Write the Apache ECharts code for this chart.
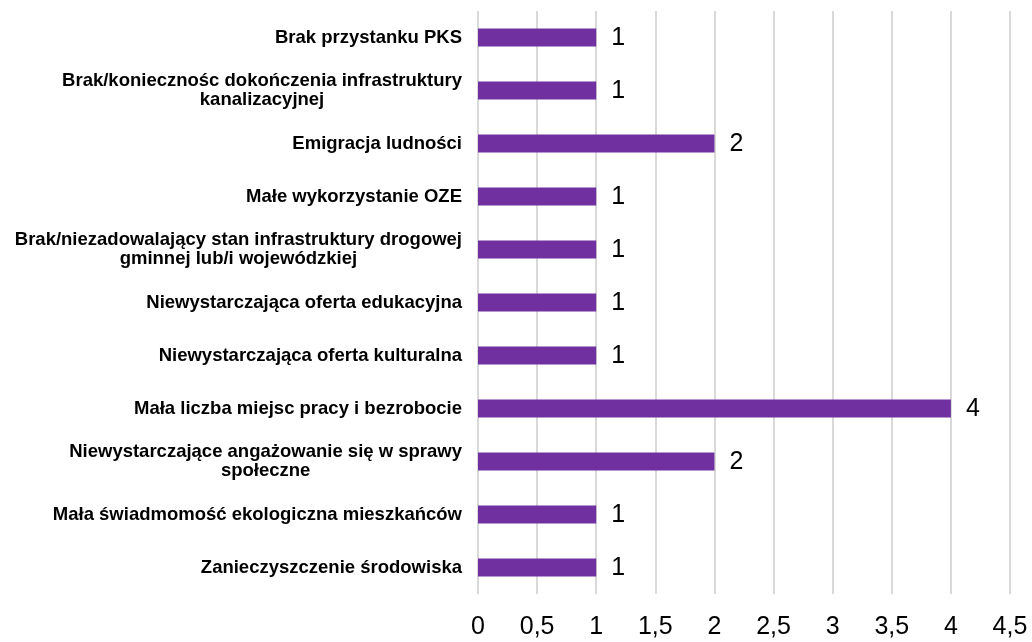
<!DOCTYPE html>
<html>
<head>
<meta charset="utf-8">
<script src="https://cdn.jsdelivr.net/npm/echarts@6/dist/echarts.min.js"></script>
<style>
  html, body { margin: 0; padding: 0; background: #fff; }
  #main { width: 1032px; height: 642px; }
</style>
</head>
<body>
<div id="main"></div>
<script>
var categories = [
  'Brak przystanku PKS',
  'Brak/koniecznośc dokończenia infrastruktury\nkanalizacyjnej',
  'Emigracja ludności',
  'Małe wykorzystanie OZE',
  'Brak/niezadowalający stan infrastruktury drogowej\ngminnej lub/i wojewódzkiej',
  'Niewystarczająca oferta edukacyjna',
  'Niewystarczająca oferta kulturalna',
  'Mała liczba miejsc pracy i bezrobocie',
  'Niewystarczające angażowanie się w sprawy\nspołeczne',
  'Mała świadmomość ekologiczna mieszkańców',
  'Zanieczyszczenie środowiska'
];
var values = [1, 1, 2, 1, 1, 1, 1, 4, 2, 1, 1];

var chartDom = document.getElementById('main');
var myChart = echarts.init(chartDom);
var option;

option = {
  animation: false,
  textStyle: { fontFamily: 'Liberation Sans, Arial, sans-serif' },
  grid: {
    left: 478,
    right: 22,
    top: 11,
    bottom: 48,
    containLabel: false
  },
  xAxis: {
    type: 'value',
    min: 0,
    max: 4.5,
    interval: 0.5,
    axisLine: { show: false },
    axisTick: { show: false },
    splitLine: { show: true, lineStyle: { color: '#d9d9d9', width: 2 } },
    axisLabel: {
      margin: 21,
      fontSize: 25,
      color: '#000',
      formatter: function (v) { return String(v).replace('.', ','); }
    }
  },
  yAxis: {
    type: 'category',
    inverse: true,
    data: categories,
    axisLine: { show: false },
    axisTick: { show: false },
    axisLabel: {
      margin: 16,
      formatter: function (v) { return '{c|' + v + '}'; },
      rich: {
        c: {
          align: 'center',
          fontSize: 18.5,
          fontWeight: 'bold',
          color: '#000',
          lineHeight: 19
        }
      }
    }
  },
  series: [
    {
      type: 'bar',
      data: values,
      barWidth: 18,
      itemStyle: { color: '#7030a0' },
      label: {
        show: true,
        position: 'right',
        distance: 15,
        fontSize: 25,
        color: '#000',
        offset: [0, 1]
      }
    }
  ]
};
myChart.setOption(option);
</script>
</body>
</html>
